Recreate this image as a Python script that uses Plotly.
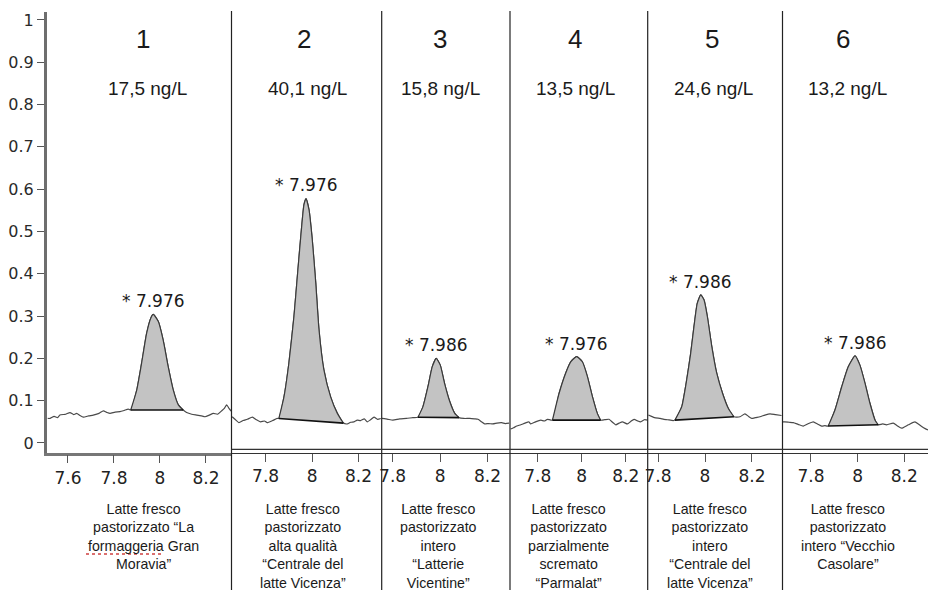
import plotly.graph_objects as go

W, H = 928, 590

# ---------------- data ----------------
panel_numbers = ["1", "2", "3", "4", "5", "6"]
concentrations = ["17,5 ng/L", "40,1 ng/L", "15,8 ng/L", "13,5 ng/L", "24,6 ng/L", "13,2 ng/L"]
captions = [
    "Latte fresco<br>pastorizzato “La<br>formaggeria Gran<br>Moravia”",
    "Latte fresco<br>pastorizzato<br>alta qualità<br>“Centrale del<br>latte Vicenza”",
    "Latte fresco<br>pastorizzato<br>intero<br>“Latterie<br>Vicentine”",
    "Latte fresco<br>pastorizzato<br>parzialmente<br>scremato<br>“Parmalat”",
    "Latte fresco<br>pastorizzato<br>intero<br>“Centrale del<br>latte Vicenza”",
    "Latte fresco<br>pastorizzato<br>intero “Vecchio<br>Casolare”",
]
peak_labels = ["* 7.976", "* 7.976", "* 7.986", "* 7.976", "* 7.986", "* 7.986"]

x_1 = [7.512, 7.522, 7.540, 7.555, 7.565, 7.590, 7.609, 7.625, 7.638, 7.652, 7.667, 7.690, 7.710, 7.735,
       7.754, 7.770, 7.783, 7.805, 7.826, 7.845, 7.862, 7.873, 7.899, 7.920, 7.942, 7.960, 7.971, 7.993,
       8.014, 8.036, 8.058, 8.080, 8.101, 8.116, 8.138, 8.160, 8.180, 8.196, 8.215, 8.232, 8.250, 8.268,
       8.280, 8.290, 8.300, 8.312]
y_1 = [0.058, 0.058, 0.063, 0.060, 0.066, 0.068, 0.072, 0.067, 0.070, 0.065, 0.061, 0.064, 0.066, 0.070,
       0.076, 0.072, 0.070, 0.073, 0.074, 0.077, 0.080, 0.078, 0.125, 0.188, 0.259, 0.295, 0.304, 0.287,
       0.243, 0.180, 0.125, 0.090, 0.078, 0.072, 0.068, 0.066, 0.064, 0.062, 0.066, 0.070, 0.068, 0.076,
       0.082, 0.090, 0.082, 0.074]

x_2 = [7.656, 7.672, 7.685, 7.703, 7.721, 7.743, 7.760, 7.778, 7.795, 7.807, 7.830, 7.850, 7.857, 7.879,
       7.900, 7.922, 7.939, 7.954, 7.965, 7.974, 7.987, 8.001, 8.016, 8.030, 8.051, 8.080, 8.109, 8.135,
       8.152, 8.166, 8.181, 8.195, 8.209, 8.225, 8.238, 8.252, 8.267, 8.282, 8.296]
y_2 = [0.062, 0.054, 0.048, 0.053, 0.056, 0.061, 0.055, 0.050, 0.052, 0.048, 0.053, 0.058, 0.058, 0.109,
       0.188, 0.299, 0.409, 0.504, 0.563, 0.578, 0.551, 0.480, 0.378, 0.267, 0.173, 0.109, 0.070, 0.047,
       0.045, 0.049, 0.050, 0.054, 0.053, 0.057, 0.050, 0.055, 0.061, 0.056, 0.058]

x_3 = [7.755, 7.780, 7.801, 7.830, 7.858, 7.885, 7.907, 7.928, 7.949, 7.967, 7.984, 8.001, 8.019, 8.041,
       8.062, 8.080, 8.100, 8.125, 8.145, 8.160, 8.175, 8.188, 8.205, 8.223, 8.240, 8.259, 8.275, 8.291]
y_3 = [0.058, 0.056, 0.054, 0.057, 0.058, 0.060, 0.061, 0.086, 0.133, 0.180, 0.200, 0.184, 0.141, 0.098,
       0.070, 0.060, 0.058, 0.058, 0.057, 0.056, 0.050, 0.045, 0.046, 0.045, 0.047, 0.048, 0.046, 0.047]

x_4 = [7.677, 7.690, 7.705, 7.723, 7.742, 7.760, 7.768, 7.790, 7.814, 7.830, 7.844, 7.867, 7.897, 7.927,
       7.950, 7.977, 8.003, 8.026, 8.049, 8.071, 8.086, 8.105, 8.124, 8.140, 8.155, 8.170, 8.185, 8.208,
       8.223, 8.238, 8.255, 8.268, 8.285, 8.299]
y_4 = [0.033, 0.036, 0.040, 0.043, 0.047, 0.050, 0.045, 0.050, 0.054, 0.052, 0.056, 0.054, 0.117, 0.165,
       0.192, 0.204, 0.192, 0.157, 0.109, 0.070, 0.054, 0.055, 0.056, 0.049, 0.043, 0.047, 0.050, 0.045,
       0.051, 0.056, 0.052, 0.050, 0.055, 0.054]

x_5 = [7.759, 7.772, 7.785, 7.809, 7.825, 7.840, 7.865, 7.872, 7.901, 7.922, 7.939, 7.953, 7.967, 7.982,
       7.996, 8.010, 8.029, 8.050, 8.075, 8.099, 8.123, 8.149, 8.170, 8.185, 8.199, 8.215, 8.234, 8.255,
       8.277, 8.300, 8.326]
y_5 = [0.066, 0.063, 0.060, 0.058, 0.056, 0.055, 0.053, 0.054, 0.086, 0.149, 0.212, 0.275, 0.330, 0.350,
       0.338, 0.299, 0.228, 0.165, 0.117, 0.082, 0.062, 0.062, 0.069, 0.063, 0.058, 0.060, 0.062, 0.066,
       0.069, 0.067, 0.065]

x_6 = [7.678, 7.688, 7.706, 7.724, 7.745, 7.767, 7.790, 7.810, 7.828, 7.846, 7.860, 7.874, 7.903, 7.932,
       7.960, 7.989, 8.010, 8.032, 8.053, 8.075, 8.089, 8.108, 8.125, 8.153, 8.170, 8.189, 8.218, 8.246,
       8.260, 8.275, 8.290, 8.302]
y_6 = [0.050, 0.050, 0.049, 0.048, 0.044, 0.040, 0.046, 0.050, 0.045, 0.040, 0.041, 0.040, 0.078, 0.133,
       0.180, 0.206, 0.184, 0.141, 0.094, 0.054, 0.043, 0.045, 0.043, 0.047, 0.041, 0.035, 0.043, 0.050,
       0.045, 0.039, 0.034, 0.031]

peak_start = [7.873, 7.857, 7.907, 7.867, 7.872, 7.874]
peak_end = [8.101, 8.135, 8.080, 8.086, 8.123, 8.089]

x_tick_values_first = [7.6, 7.8, 8.0, 8.2]
x_tick_labels_first = ["7.6", "7.8", "8", "8.2"]
x_tick_values = [7.8, 8.0, 8.2]
x_tick_labels = ["7.8", "8", "8.2"]
y_tick_values = [0, 0.1, 0.2, 0.3, 0.4, 0.5, 0.6, 0.7, 0.8, 0.9, 1]
y_tick_labels = ["0", "0.1", "0.2", "0.3", "0.4", "0.5", "0.6", "0.7", "0.8", "0.9", "1"]

xs = [x_1, x_2, x_3, x_4, x_5, x_6]
ys = [y_1, y_2, y_3, y_4, y_5, y_6]

# ---------------- layout geometry (pixels) ----------------
panel_px = [(47, 231.5), (231.5, 381.7), (381.7, 510), (510, 647.7), (647.7, 782.5), (782.5, 928)]
x_ranges = [[7.509, 8.311], [7.653, 8.300], [7.754, 8.295], [7.674, 8.300], [7.756, 8.330], [7.678, 8.302]]
title_px = [143, 304, 440, 575, 712, 843]
conc_px = [147, 307, 440, 575, 713, 847]
caption_px = [143, 303, 438, 568, 710, 848]

axis_bottom_px = 452.5
axis_top_px = 11.7


def px_x(p):
    return p / W


def px_y(p):
    return 1 - p / H


SANS = "Liberation Sans, Arial, sans-serif"
DEJ = "DejaVu Sans, Verdana, sans-serif"

fig = go.Figure()
annotations = []
shapes = []

for i in range(6):
    xa = "x" if i == 0 else f"x{i + 1}"
    xs_i, ys_i = xs[i], ys[i]
    # full trace
    fig.add_trace(go.Scatter(x=xs_i, y=ys_i, xaxis=xa, yaxis="y", mode="lines",
                             line=dict(color="#4a4a4a", width=1.2, shape="spline", smoothing=0.5),
                             hoverinfo="skip"))
    # shaded peak (curve closed by straight baseline)
    px_ = [x for x in xs_i if peak_start[i] <= x <= peak_end[i]]
    py_ = [y for x, y in zip(xs_i, ys_i) if peak_start[i] <= x <= peak_end[i]]
    fig.add_trace(go.Scatter(x=px_, y=py_, xaxis=xa, yaxis="y", mode="lines",
                             fill="toself", fillcolor="#c3c3c3",
                             line=dict(color="#3a3a3a", width=1.2, shape="spline", smoothing=0.5),
                             hoverinfo="skip"))
    # baseline segment (darker)
    fig.add_trace(go.Scatter(x=[px_[0], px_[-1]], y=[py_[0], py_[-1]], xaxis=xa, yaxis="y", mode="lines",
                             line=dict(color="#111111", width=1.6), hoverinfo="skip"))

    first = i == 0
    ax = dict(
        domain=[px_x(panel_px[i][0]), px_x(panel_px[i][1])],
        range=x_ranges[i], anchor="y", automargin=False,
        tickmode="array",
        tickvals=x_tick_values_first if first else x_tick_values,
        ticktext=x_tick_labels_first if first else x_tick_labels,
        ticks="outside", ticklen=8, tickcolor="#555555", tickwidth=1.2,
        tickfont=dict(family=DEJ, size=17, color="#222222"),
        showgrid=False, zeroline=False, showline=True,
        linecolor="#777777" if first else "#333333",
        linewidth=2.5 if first else 1.2,
        fixedrange=True,
    )
    key = "xaxis" if i == 0 else f"xaxis{i + 1}"
    fig.layout[key] = ax

    # apex label
    k = ys_i.index(max(ys_i))
    annotations.append(dict(x=xs_i[k], y=ys_i[k], xref=xa, yref="y", text=peak_labels[i],
                            showarrow=False, xanchor="center", yanchor="middle", yshift=13,
                            font=dict(family=DEJ, size=17, color="#1a1a1a")))
    # panel number and concentration
    annotations.append(dict(x=px_x(title_px[i]), y=px_y(39), xref="paper", yref="paper",
                            text=panel_numbers[i], showarrow=False, xanchor="center", yanchor="middle",
                            font=dict(family=SANS, size=26, color="#1a1a1a")))
    annotations.append(dict(x=px_x(conc_px[i]), y=px_y(89), xref="paper", yref="paper",
                            text=concentrations[i], showarrow=False, xanchor="center", yanchor="middle",
                            font=dict(family=SANS, size=19, color="#1a1a1a")))
    annotations.append(dict(x=px_x(caption_px[i]), y=px_y(499), xref="paper", yref="paper",
                            text=captions[i], showarrow=False, xanchor="center", yanchor="top",
                            align="center",
                            font=dict(family=SANS, size=14.2, color="#1a1a1a")))

# vertical dividers between panels
for b in [231.5, 381.7, 510, 647.7, 782.5]:
    shapes.append(dict(type="line", xref="paper", yref="paper", x0=px_x(b), x1=px_x(b),
                       y0=0, y1=px_y(11), line=dict(color="#222222", width=1.2)))
# upper rule of the double x axis line for panels 2-6
shapes.append(dict(type="line", xref="paper", yref="paper", x0=px_x(231.5), x1=1,
                   y0=px_y(449.3), y1=px_y(449.3), line=dict(color="#333333", width=1.2)))
# spell-check squiggle under "formaggeria"
shapes.append(dict(type="line", xref="paper", yref="paper", x0=px_x(86), x1=px_x(163),
                   y0=px_y(554), y1=px_y(554), line=dict(color="#d04040", width=1.3, dash="dot")))

fig.update_layout(
    template="none",
    width=W, height=H, autosize=False,
    margin=dict(l=0, r=0, t=0, b=0, pad=0),
    paper_bgcolor="white", plot_bgcolor="rgba(0,0,0,0)",
    showlegend=False,
    yaxis=dict(domain=[px_y(axis_bottom_px), px_y(axis_top_px)],
               range=[-0.0225, 1.0196], anchor="x", automargin=False,
               tickmode="array", tickvals=y_tick_values, ticktext=y_tick_labels,
               ticks="outside", ticklen=7, tickcolor="#555555", tickwidth=1.2,
               tickfont=dict(family=DEJ, size=16, color="#2a2a2a"),
               showgrid=False, zeroline=False, showline=True,
               linecolor="#6e6e6e", linewidth=3, fixedrange=True),
    annotations=annotations,
    shapes=shapes,
)

fig.write_html(
    "out.html",
    config={"displayModeBar": False},
    post_script="document.body.style.margin='0';document.body.style.overflow='hidden';",
)
